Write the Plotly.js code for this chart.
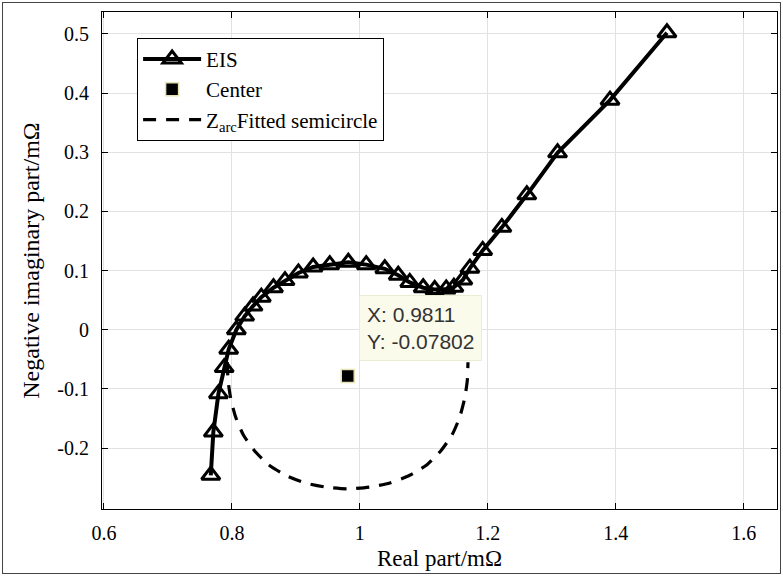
<!DOCTYPE html>
<html>
<head>
<meta charset="utf-8">
<script src="https://cdn.plot.ly/plotly-3.0.1.min.js"></script>
<style>
  body { margin: 0; padding: 0; background: #fff; }
  #wrap { position: relative; width: 783px; height: 578px; }
  #plot { width: 783px; height: 578px; }
  #frame { position: absolute; left: 2px; top: 2px; width: 777px; height: 570px; border: 1px solid #444; pointer-events: none; }
</style>
</head>
<body>
<div id="wrap"><div id="plot"></div><div id="frame"></div></div>
<script>
// EIS measurement (real part, negative imaginary part), mΩ
const eisReal = [0.767, 0.771, 0.779, 0.788, 0.795, 0.807, 0.820, 0.833, 0.846, 0.865,
                 0.883, 0.904, 0.927, 0.953, 0.982, 1.010, 1.039, 1.060, 1.078, 1.099,
                 1.117, 1.135, 1.147, 1.161, 1.172, 1.192, 1.222, 1.261, 1.309, 1.391, 1.480];
const eisImag = [-0.246, -0.173, -0.108, -0.064, -0.033, 0.000, 0.023, 0.040, 0.055, 0.071,
                 0.083, 0.096, 0.106, 0.110, 0.114, 0.110, 0.103, 0.092, 0.080, 0.071,
                 0.068, 0.069, 0.072, 0.084, 0.104, 0.134, 0.173, 0.228, 0.299, 0.388, 0.502];
// Fitted semicircle centre
const centerReal = [0.9811];
const centerImag = [-0.07802];
// Fitted Zarc semicircle
const arcReal = [0.793, 0.794, 0.798, 0.806, 0.818, 0.835, 0.857, 0.884, 0.915, 0.947, 0.981,
                 1.015, 1.047, 1.078, 1.105, 1.127, 1.144, 1.156, 1.164, 1.168, 1.169];
const arcImag = [-0.055, -0.085, -0.115, -0.148, -0.178, -0.204, -0.228, -0.246, -0.259, -0.266, -0.269,
                 -0.266, -0.259, -0.246, -0.228, -0.204, -0.178, -0.148, -0.115, -0.085, -0.055];
// Tick labels
const xTickVals = [0.6, 0.8, 1.0, 1.2, 1.4, 1.6];
const xTickText = ["0.6", "0.8", "1", "1.2", "1.4", "1.6"];
const yTickVals = [-0.2, -0.1, 0, 0.1, 0.2, 0.3, 0.4, 0.5];
const yTickText = ["-0.2", "-0.1", "0", "0.1", "0.2", "0.3", "0.4", "0.5"];
const tipText = "X: 0.9811<br>Y: -0.07802";

const serif = "Liberation Serif, Times New Roman, serif";

const traces = [
  {
    x: eisReal, y: eisImag, name: "EIS", type: "scatter", mode: "lines+markers",
    line: { color: "#000", width: 4 },
    marker: { symbol: "triangle-up-open", size: 16, color: "#000", line: { color: "#000", width: 3 } }
  },
  {
    x: centerReal, y: centerImag, name: "Center", type: "scatter", mode: "markers",
    marker: { symbol: "square", size: 13, color: "#000", line: { color: "#e6e2b4", width: 1.5 } }
  },
  {
    x: arcReal, y: arcImag, name: "Z<sub>arc</sub>Fitted semicircle", type: "scatter", mode: "lines",
    line: { color: "#000", width: 3.2, dash: "13px,10px", shape: "spline", smoothing: 0.6 }
  }
];

const axisCommon = {
  showline: true, linecolor: "#000", linewidth: 1, mirror: "ticks",
  ticks: "inside", ticklen: 6, tickcolor: "#000", tickwidth: 1,
  showgrid: true, gridcolor: "#e2e2e2", gridwidth: 1, zeroline: false,
  tickfont: { family: serif, size: 20, color: "#000" },
  tickmode: "array"
};

const layout = {
  width: 783, height: 578,
  margin: { l: 102, r: 6, t: 12, b: 69 },
  paper_bgcolor: "#fff", plot_bgcolor: "#fff",
  showlegend: true,
  xaxis: Object.assign({}, axisCommon, {
    range: [0.597, 1.652], tickvals: xTickVals, ticktext: xTickText,
    ticklabelstandoff: 6,
    title: { text: "Real part/mΩ", font: { family: serif, size: 23, color: "#000" }, standoff: 6 }
  }),
  yaxis: Object.assign({}, axisCommon, {
    range: [-0.303, 0.537], tickvals: yTickVals, ticktext: yTickText,
    ticklabelstandoff: 8,
    title: { text: "Negative imaginary part/mΩ", font: { family: serif, size: 24, color: "#000" }, standoff: 10 }
  }),
  legend: {
    x: 0.052, y: 0.948, xanchor: "left", yanchor: "top",
    bgcolor: "#fff", bordercolor: "#000", borderwidth: 1,
    font: { family: serif, size: 21, color: "#000" },
    itemwidth: 58, tracegroupgap: 0
  },
  annotations: [{
    xref: "x", yref: "y", x: 0.998, y: 0.058, xanchor: "left", yanchor: "top",
    text: tipText, showarrow: false, align: "left",
    font: { family: "Liberation Sans, Arial, sans-serif", size: 21, color: "#333" },
    bgcolor: "#fbfbec", bordercolor: "#ecebd6", borderwidth: 1, borderpad: 7
  }]
};

Plotly.newPlot("plot", traces, layout, { displayModeBar: false, staticPlot: true });
</script>
</body>
</html>
